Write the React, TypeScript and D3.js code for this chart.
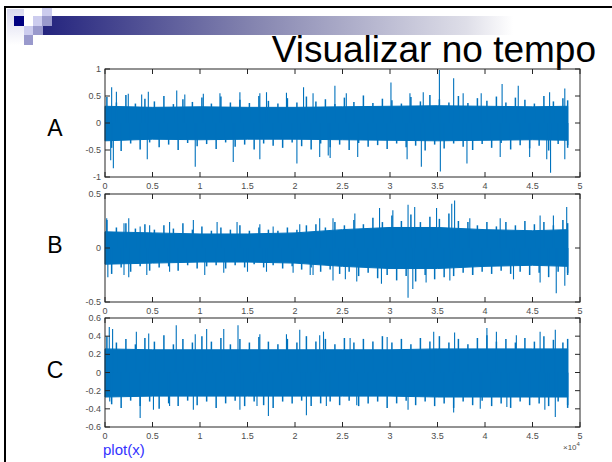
import * as d3 from 'd3';
import React from 'react';

// outer reach of the dense "grass", one value per 0.1 x10^4 samples
const aHi = [0.48,0.38,0.52,0.36,0.45,0.40,0.50,0.35,0.44,0.39,0.47,0.36,0.49,0.38,0.43,0.37,0.50,0.41,0.36,0.46,0.38,0.49,0.40,0.44,0.35,0.47,0.39,0.51,0.37,0.45,0.42,0.36,0.48,0.40,0.52,0.44,0.38,0.50,0.37,0.46,0.41,0.49,0.38,0.47,0.43,0.36,0.50,0.40,0.46,0.42];
const aLo = [-0.46,-0.52,-0.38,-0.49,-0.36,-0.45,-0.40,-0.50,-0.37,-0.43,-0.39,-0.48,-0.36,-0.44,-0.40,-0.49,-0.38,-0.42,-0.46,-0.36,-0.43,-0.49,-0.38,-0.45,-0.40,-0.50,-0.37,-0.44,-0.41,-0.48,-0.38,-0.45,-0.42,-0.51,-0.40,-0.47,-0.38,-0.44,-0.50,-0.39,-0.46,-0.37,-0.49,-0.41,-0.47,-0.42,-0.51,-0.39,-0.46,-0.41];
const bHi = [0.26,0.19,0.23,0.18,0.22,0.17,0.21,0.18,0.23,0.17,0.20,0.16,0.19,0.17,0.21,0.16,0.19,0.17,0.16,0.19,0.17,0.21,0.22,0.19,0.24,0.21,0.26,0.22,0.28,0.24,0.30,0.25,0.31,0.24,0.29,0.27,0.32,0.25,0.24,0.21,0.24,0.20,0.24,0.21,0.25,0.22,0.24,0.21,0.26,0.23];
const bLo = [-0.24,-0.18,-0.22,-0.17,-0.21,-0.18,-0.17,-0.21,-0.16,-0.19,-0.17,-0.16,-0.19,-0.16,-0.18,-0.15,-0.18,-0.16,-0.19,-0.17,-0.20,-0.18,-0.22,-0.20,-0.24,-0.22,-0.26,-0.23,-0.28,-0.25,-0.30,-0.26,-0.31,-0.25,-0.29,-0.27,-0.26,-0.23,-0.25,-0.22,-0.24,-0.21,-0.24,-0.22,-0.25,-0.23,-0.27,-0.22,-0.25,-0.23];
const cHi = [0.40,0.33,0.37,0.31,0.38,0.34,0.41,0.31,0.37,0.33,0.40,0.34,0.38,0.31,0.37,0.33,0.39,0.34,0.31,0.37,0.33,0.40,0.34,0.37,0.31,0.38,0.33,0.37,0.34,0.40,0.33,0.37,0.31,0.38,0.34,0.40,0.33,0.37,0.31,0.38,0.41,0.34,0.37,0.33,0.38,0.34,0.40,0.36,0.33,0.37];
const cLo = [-0.35,-0.39,-0.31,-0.37,-0.32,-0.40,-0.34,-0.37,-0.31,-0.36,-0.32,-0.39,-0.34,-0.31,-0.37,-0.32,-0.36,-0.39,-0.32,-0.34,-0.31,-0.37,-0.34,-0.32,-0.36,-0.31,-0.37,-0.34,-0.32,-0.39,-0.34,-0.31,-0.36,-0.32,-0.37,-0.34,-0.39,-0.32,-0.36,-0.31,-0.37,-0.34,-0.39,-0.32,-0.36,-0.34,-0.37,-0.32,-0.39,-0.36];

// solid core of the band, one value per 0.5 x10^4 samples
const aCoreHi = [0.31,0.29,0.30,0.29,0.29,0.30,0.31,0.32,0.31,0.30,0.31];
const aCoreLo = [-0.33,-0.30,-0.31,-0.30,-0.30,-0.31,-0.32,-0.33,-0.32,-0.31,-0.32];
const bCoreHi = [0.15,0.14,0.13,0.13,0.14,0.17,0.19,0.19,0.17,0.16,0.17];
const bCoreLo = [-0.15,-0.14,-0.13,-0.13,-0.14,-0.17,-0.19,-0.19,-0.17,-0.16,-0.17];
const cCoreHi = [0.26,0.25,0.25,0.25,0.25,0.25,0.25,0.26,0.26,0.26,0.26];
const cCoreLo = [-0.27,-0.26,-0.26,-0.26,-0.26,-0.26,-0.26,-0.27,-0.27,-0.27,-0.27];

// single large excursions (x in units of 10^4 samples)
const aSpikeX = [0.07,0.12,0.245,0.386,0.456,0.755,0.84,1.035,1.21,1.42,1.63,1.70,1.91,2.09,2.19,2.42,2.54,3.01,3.21,3.35,3.52,3.67,3.77,3.96,4.18,4.35,4.68,4.84,
  0.088,0.06,0.445,0.95,1.35,1.63,2.02,2.26,2.35,2.37,2.66,3.18,3.33,3.53,3.81,4.16,4.47,4.65,4.69,4.84];
const aSpikeY = [0.66,0.58,0.54,0.53,0.58,0.60,0.53,0.54,0.55,0.57,0.55,0.57,0.56,0.66,0.55,0.69,0.55,0.75,0.55,0.57,0.98,0.83,0.55,0.55,0.72,0.69,0.57,0.64,
  -0.84,-0.69,-0.67,-0.81,-0.72,-0.67,-0.75,-0.63,-0.60,-0.65,-0.63,-0.67,-0.81,-0.90,-0.75,-0.63,-0.63,-0.67,-0.92,-0.67];
const bSpikeX = [0.018,0.25,0.2,0.37,0.47,0.68,0.93,1.18,1.39,1.63,1.77,2.05,2.26,2.4,2.63,2.89,3.03,3.19,3.26,3.49,3.65,3.68,3.84,4.16,4.58,4.72,4.86,
  0.03,0.2,0.25,0.44,0.68,1.05,1.25,1.5,1.7,1.98,2.16,2.19,2.4,2.53,2.65,2.91,3.19,3.24,3.38,3.63,3.87,4.3,4.58,4.75,4.84];
const bSpikeY = [0.275,0.275,0.23,0.2,0.21,0.24,0.26,0.24,0.24,0.22,0.2,0.22,0.275,0.275,0.32,0.37,0.35,0.4,0.38,0.37,0.41,0.44,0.275,0.275,0.3,0.3,0.38,
  -0.27,-0.25,-0.27,-0.25,-0.22,-0.25,-0.23,-0.22,-0.22,-0.23,-0.25,-0.25,-0.3,-0.29,-0.31,-0.33,-0.46,-0.38,-0.32,-0.3,-0.25,-0.29,-0.32,-0.42,-0.35];
const cSpikeX = [0.045,0.08,0.33,0.46,0.75,0.95,1.07,1.25,1.4,1.63,1.91,2.05,2.3,2.58,2.26,2.97,3.46,3.68,4.02,4.12,4.33,4.58,4.74,
  0.05,0.37,0.51,0.68,0.93,1.42,1.6,1.72,2.12,2.33,2.65,3.19,3.67,3.95,4.23,4.63,4.74];
const cSpikeY = [0.5,0.48,0.45,0.43,0.52,0.42,0.48,0.48,0.52,0.42,0.42,0.47,0.45,0.38,0.41,0.39,0.45,0.44,0.49,0.45,0.41,0.45,0.47,
  -0.32,-0.5,-0.41,-0.37,-0.41,-0.41,-0.37,-0.48,-0.47,-0.37,-0.36,-0.41,-0.44,-0.4,-0.38,-0.41,-0.49];

const xTicks = [0,0.5,1,1.5,2,2.5,3,3.5,4,4.5,5];
const aTicks = [-1,-0.5,0,0.5,1];
const bTicks = [-0.5,0,0.5];
const cTicks = [-0.6,-0.4,-0.2,0,0.2,0.4,0.6];

const panelNames = ['A', 'B', 'C'];
const lineColor = '#0072BD';
const signalEnd = 4.87;

function Panel({ top, bottom, domain, ticks, hi, lo, coreHi, coreLo, spikeX, spikeY, name, labelY }) {
  const x = d3.scaleLinear().domain([0, 5]).range([105, 580]);
  const y = d3.scaleLinear().domain(domain).range([bottom, top]);
  const coreIdx = d3.range(coreHi.length);
  const core = d3.area()
    .x(i => x(Math.min(i * 0.5, signalEnd)))
    .y0(i => y(coreLo[i]))
    .y1(i => y(coreHi[i]));
  const fmt = v => String(+v.toFixed(1));
  const gx = (i, off) => x(Math.min(i * 0.1 + off, signalEnd));
  return (
    <g>
      <text x={55} y={labelY} fontSize={23} fontFamily="Liberation Sans, Arial" textAnchor="middle">{name}</text>
      <path d={core(coreIdx)} fill={lineColor} stroke={lineColor} strokeWidth={1} />
      {hi.map((v, i) => (
        <line key={'h' + i} x1={gx(i, 0.02)} x2={gx(i, 0.02)} y1={y(0)} y2={y(v)} stroke={lineColor} strokeWidth={1.5} />
      ))}
      {lo.map((v, i) => (
        <line key={'l' + i} x1={gx(i, 0.07)} x2={gx(i, 0.07)} y1={y(0)} y2={y(v)} stroke={lineColor} strokeWidth={1.5} />
      ))}
      {spikeX.map((sx, i) => (
        <line key={i} x1={x(sx)} x2={x(sx)} y1={y(0)} y2={y(spikeY[i])} stroke={lineColor} strokeWidth={1.1} />
      ))}
      <rect x={105} y={top} width={475} height={bottom - top} fill="none" stroke="#262626" strokeWidth={1} />
      {xTicks.map(t => (
        <g key={t}>
          <line x1={x(t)} x2={x(t)} y1={bottom} y2={bottom - 5} stroke="#262626" />
          <line x1={x(t)} x2={x(t)} y1={top} y2={top + 5} stroke="#262626" />
          <text x={x(t)} y={bottom + 12} fontSize={9} fill="#4d4d4d" textAnchor="middle" fontFamily="Liberation Sans, Arial">{fmt(t)}</text>
        </g>
      ))}
      {ticks.map(t => (
        <g key={t}>
          <line x1={105} x2={110} y1={y(t)} y2={y(t)} stroke="#262626" />
          <line x1={575} x2={580} y1={y(t)} y2={y(t)} stroke="#262626" />
          <text x={101} y={y(t) + 3} fontSize={9} fill="#4d4d4d" textAnchor="end" fontFamily="Liberation Sans, Arial">{fmt(t)}</text>
        </g>
      ))}
    </g>
  );
}

export default function App() {
  return (
    <svg width={612} height={462} style={{ position: 'absolute', left: 0, top: 0, background: '#fff' }}>
      <defs>
        <linearGradient id="bar" x1="0" x2="1" y1="0" y2="0">
          <stop offset="0%" stopColor="#24247e" />
          <stop offset="45%" stopColor="#8585b0" />
          <stop offset="90%" stopColor="#dedee8" />
          <stop offset="100%" stopColor="#ffffff" />
        </linearGradient>
        <linearGradient id="pale" x1="0" x2="0" y1="0" y2="1">
          <stop offset="0%" stopColor="#d8d8ee" />
          <stop offset="100%" stopColor="#ffffff" />
        </linearGradient>
      </defs>
      <rect x={43} y={16} width={470} height={19} fill="url(#bar)" />
      <rect x={7} y={9} width={17} height={36} fill="url(#pale)" />
      <rect x={14} y={16} width={10} height={10} fill="#000080" />
      <rect x={24} y={16} width={9} height={10} fill="#ffffff" />
      <rect x={33} y={16} width={9} height={10} fill="#ccccee" />
      <rect x={42} y={16} width={10} height={10} fill="#9999cc" />
      <rect x={42} y={8} width={10} height={8} fill="#ccccee" />
      <rect x={24} y={26} width={9} height={9} fill="#ccccee" />
      <rect x={33} y={26} width={10} height={9} fill="#9999cc" />
      <rect x={24} y={35} width={9} height={10} fill="#9999cc" />
      <line x1={5} x2={612} y1={7} y2={7} stroke="#000" strokeWidth={2} />
      <line x1={5} x2={5} y1={6} y2={462} stroke="#000" strokeWidth={2} />
      <text x={596} y={62} fontSize={37} fontFamily="Liberation Sans, Arial" textAnchor="end">Visualizar no tempo</text>
      <Panel top={69} bottom={177} domain={[-1, 1]} ticks={aTicks} hi={aHi} lo={aLo} coreHi={aCoreHi} coreLo={aCoreLo} spikeX={aSpikeX} spikeY={aSpikeY} name={panelNames[0]} labelY={136} />
      <Panel top={194} bottom={302} domain={[-0.5, 0.5]} ticks={bTicks} hi={bHi} lo={bLo} coreHi={bCoreHi} coreLo={bCoreLo} spikeX={bSpikeX} spikeY={bSpikeY} name={panelNames[1]} labelY={253} />
      <Panel top={318} bottom={427} domain={[-0.6, 0.6]} ticks={cTicks} hi={cHi} lo={cLo} coreHi={cCoreHi} coreLo={cCoreLo} spikeX={cSpikeX} spikeY={cSpikeY} name={panelNames[2]} labelY={378} />
      <text x={563} y={450} fontSize={8} fill="#4d4d4d" fontFamily="Liberation Sans, Arial">×10<tspan dy={-4} fontSize={6}>4</tspan></text>
      <text x={103} y={455} fontSize={15} fill="#3333ff" fontFamily="Liberation Sans, Arial">plot(x)</text>
    </svg>
  );
}
